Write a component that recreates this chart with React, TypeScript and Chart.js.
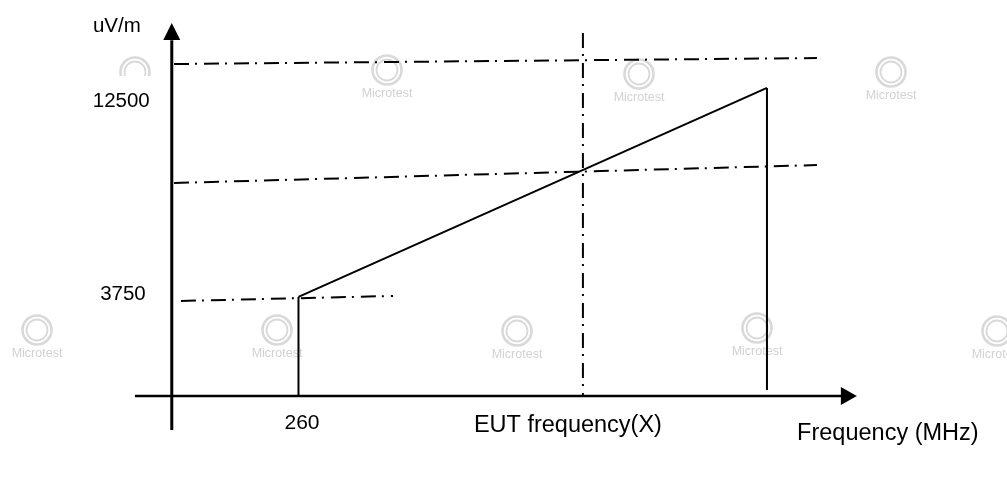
import React, { useEffect, useRef } from "react";
import { Chart, registerables } from "chart.js";

Chart.register(...registerables);

// ---- data (schematic: field-strength limit vs frequency) ----
const limitFreqs = [260, 470]; // MHz
const limitLevels = [3750, 12500]; // uV/m
const eutFrequency = 387.5; // MHz (X)
const highEdgeBottom = -150; // level where the 470 MHz edge line stops
const axisCrossLevel = -400; // level of the frequency axis
const axisCrossFreq = 203.2; // frequency of the level axis
const xAxisSpan = [186.7, 503.5]; // frequency axis line (before arrow head)
const xAxisTip = 510.3;
const yAxisSpan = [-1820, 14500]; // level axis line (before arrow head)
const yAxisTip = 15220;
const upperDashFreqs = [204.2, 492.4];
const upperDashLevels = [13500, 13750];
const middleDashFreqs = [204.2, 492.4];
const middleDashLevels = [8520, 9270];
const lowerDashFreqs = [207.3, 302.4];
const lowerDashLevels = [3580, 3790];
const eutDashLevels = [14800, -400];
const yTickValues = [3750, 12500];
const yTickLabels = ["3750", "12500"];
const xTickValues = [260, eutFrequency];
const xTickLabels = ["260", "EUT frequency(X)"];
const yAxisTitle = "uV/m";
const xAxisTitle = "Frequency (MHz)";

// ---- layout / style ----
const W = 1007;
const H = 483;
const FONT = '"Liberation Sans", Arial, Helvetica, sans-serif';
const DASH_DOT = [15, 6, 2, 7];
const yTickDx = [-26, -22];
const yTickDy = [-3, 13];
const xTickDx = [3.5, -15];
const xTickDy = [27, 29];
const watermarks: [number, number][] = [
  [387, 70],
  [639, 74],
  [891, 72],
  [37, 330],
  [277, 330],
  [517, 331],
  [757, 328],
  [997, 331],
];

function pts(xs: number[], ys: number[]) {
  return xs.map((x, i) => ({ x, y: ys[i] }));
}

const line = (data: { x: number; y: number }[], width: number, dash: number[] = []) => ({
  data,
  showLine: true,
  borderColor: "#000",
  backgroundColor: "#000",
  borderWidth: width,
  borderDash: dash,
  pointRadius: 0,
  pointHoverRadius: 0,
  tension: 0,
  fill: false,
});

function drawLogo(ctx: CanvasRenderingContext2D, cx: number, cy: number, withText: boolean) {
  ctx.save();
  ctx.strokeStyle = "#d9d9d9";
  ctx.lineWidth = 2.6;
  ctx.beginPath();
  ctx.arc(cx, cy, 14.5, 0, Math.PI * 2);
  ctx.stroke();
  ctx.lineWidth = 1.8;
  ctx.beginPath();
  ctx.arc(cx, cy, 10.5, 0, Math.PI * 2);
  ctx.stroke();
  if (withText) {
    ctx.fillStyle = "#d2d2d2";
    ctx.font = `12.5px ${FONT}`;
    ctx.textAlign = "center";
    ctx.textBaseline = "middle";
    ctx.fillText("Microtest", cx, cy + 24);
  }
  ctx.restore();
}

const schematicPlugin = {
  id: "schematic",
  beforeDatasetsDraw(chart: any) {
    const ctx: CanvasRenderingContext2D = chart.ctx;
    watermarks.forEach(([x, y]) => drawLogo(ctx, x, y, true));
    ctx.save();
    ctx.beginPath();
    ctx.rect(100, 40, 80, 36);
    ctx.clip();
    drawLogo(ctx, 135, 72, false);
    ctx.restore();
  },
  afterDatasetsDraw(chart: any) {
    const ctx: CanvasRenderingContext2D = chart.ctx;
    const xs = chart.scales.x;
    const ys = chart.scales.y;
    const ax = xs.getPixelForValue(axisCrossFreq);
    const ay = ys.getPixelForValue(axisCrossLevel);
    ctx.save();
    ctx.fillStyle = "#000";
    // y arrow head
    const yTipPx = ys.getPixelForValue(yAxisTip);
    ctx.beginPath();
    ctx.moveTo(ax, yTipPx);
    ctx.lineTo(ax - 8.5, yTipPx + 17);
    ctx.lineTo(ax + 8.5, yTipPx + 17);
    ctx.closePath();
    ctx.fill();
    // x arrow head
    const xTipPx = xs.getPixelForValue(xAxisTip);
    ctx.beginPath();
    ctx.moveTo(xTipPx, ay);
    ctx.lineTo(xTipPx - 16, ay - 9);
    ctx.lineTo(xTipPx - 16, ay + 9);
    ctx.closePath();
    ctx.fill();

    // labels
    ctx.textBaseline = "middle";
    ctx.font = `20.5px ${FONT}`;
    ctx.textAlign = "right";
    yTickValues.forEach((v, i) => {
      ctx.fillText(yTickLabels[i], ax + yTickDx[i], ys.getPixelForValue(v) + yTickDy[i]);
    });
    ctx.fillText(yAxisTitle, ax - 31, yTipPx + 3);
    ctx.textAlign = "center";
    ctx.font = `21px ${FONT}`;
    ctx.fillText(xTickLabels[0], xs.getPixelForValue(xTickValues[0]) + xTickDx[0], ay + xTickDy[0]);
    ctx.font = `23.5px ${FONT}`;
    ctx.fillText(xTickLabels[1], xs.getPixelForValue(xTickValues[1]) + xTickDx[1], ay + xTickDy[1]);
    ctx.fillText(xAxisTitle, xTipPx + 31, ay + 37);
    ctx.restore();
  },
};

export default function App() {
  const ref = useRef<HTMLCanvasElement | null>(null);
  useEffect(() => {
    if (!ref.current) return;
    const chart = new Chart(ref.current, {
      type: "scatter",
      data: {
        datasets: [
          // axes
          line(pts(xAxisSpan, [axisCrossLevel, axisCrossLevel]), 2.6),
          line(pts([axisCrossFreq, axisCrossFreq], yAxisSpan), 3),
          // dash-dot reference lines
          line(pts(upperDashFreqs, upperDashLevels), 2, DASH_DOT),
          line(pts(middleDashFreqs, middleDashLevels), 2, DASH_DOT),
          line(pts(lowerDashFreqs, lowerDashLevels), 2, DASH_DOT),
          line(pts([eutFrequency, eutFrequency], eutDashLevels), 2, DASH_DOT),
          // limit line
          line(pts(limitFreqs, limitLevels), 2),
          line(pts([limitFreqs[0], limitFreqs[0]], [limitLevels[0], axisCrossLevel]), 2),
          line(pts([limitFreqs[1], limitFreqs[1]], [limitLevels[1], highEdgeBottom]), 2),
        ] as any,
      },
      options: {
        animation: false,
        responsive: false,
        devicePixelRatio: 1,
        layout: { padding: 0 },
        plugins: { legend: { display: false }, tooltip: { enabled: false } },
        events: [],
        scales: {
          x: { type: "linear", display: false, min: 126.2, max: 577.6 },
          y: { type: "linear", display: false, min: -4040, max: 16180 },
        },
      },
      plugins: [schematicPlugin],
    });
    return () => chart.destroy();
  }, []);
  return (
    <div style={{ position: "absolute", left: 0, top: 0, width: W, height: H, background: "#fff" }}>
      <canvas ref={ref} width={W} height={H} style={{ display: "block" }} />
    </div>
  );
}
